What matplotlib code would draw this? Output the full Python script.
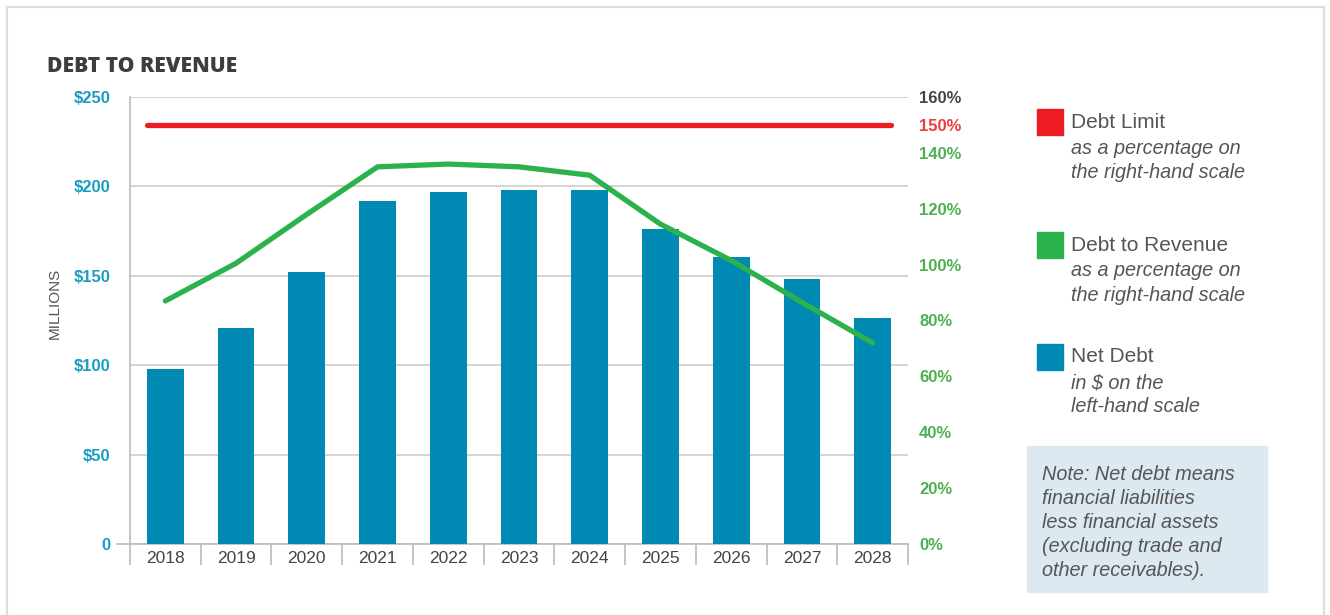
import matplotlib
matplotlib.use("Agg")
import matplotlib.pyplot as plt
from matplotlib.patches import Rectangle
from matplotlib.lines import Line2D
import numpy as np

# ---- data ----
years = ["2018", "2019", "2020", "2021", "2022", "2023", "2024", "2025", "2026", "2027", "2028"]
net_debt = [98, 121, 152, 192, 197, 198, 198, 176, 160.5, 148, 126.5]          # $ millions (left)
debt_to_revenue = [87, 100.5, 118, 135, 136, 135, 132, 114.5, 101.5, 86.5, 72]  # % (right)
debt_limit = 150                                                                # % (right)
left_ticks = [0, 50, 100, 150, 200, 250]
left_labels = ["0", "$50", "$100", "$150", "$200", "$250"]
right_ticks = [0, 20, 40, 60, 80, 100, 120, 140, 150, 160]
right_labels = ["0%", "20%", "40%", "60%", "80%", "100%", "120%", "140%", "150%", "160%"]

BLUE = "#0089b3"
TEAL = "#1a9bc1"
GREEN = "#2bb24c"
GREEN_TXT = "#4cb050"
RED = "#ed1c24"
RED_TXT = "#ef3b39"
DARK = "#444444"
GRID = "#cccccc"
SPINE = "#bbbbbb"
BAR_W = 0.52

plt.rcParams["font.family"] = ["Liberation Sans", "DejaVu Sans"]

W, H = 1330, 615
fig = plt.figure(figsize=(W / 100, H / 100), dpi=100)

def fx(px):
    return px / W

def fy(py):
    return 1 - py / H

# outer frame
fig.add_artist(Line2D([fx(7), fx(7)], [fy(7), 0], color="#dddddd", lw=1.6))
fig.add_artist(Line2D([fx(7), fx(1324)], [fy(7), fy(7)], color="#dddddd", lw=1.6))
fig.add_artist(Line2D([fx(1324), fx(1324)], [fy(7), 0], color="#dddddd", lw=1.6))

left, right, top, bottom = 130, 908, 97, 544
ax = fig.add_axes([fx(left), fy(bottom), fx(right - left), (bottom - top) / H])
x = np.arange(len(years))
ax.bar(x, net_debt, width=BAR_W, color=BLUE, zorder=3)
ax.set_xlim(-0.5, len(years) - 0.5)
ax.set_ylim(0, 250)

for s in ["top", "right"]:
    ax.spines[s].set_visible(False)
ax.spines["left"].set_color(SPINE)
ax.spines["bottom"].set_color(SPINE)
ax.spines["left"].set_linewidth(1.2)
ax.spines["bottom"].set_linewidth(1.2)

ax.set_yticks(left_ticks)
ax.set_yticklabels(left_labels)
ax.tick_params(axis="y", length=0, pad=14, labelsize=12, labelcolor=TEAL)
for lab in ax.get_yticklabels():
    lab.set_fontweight("bold")
ax.yaxis.grid(True, color=GRID, lw=1.2, zorder=0)
ax.set_axisbelow(True)
# short extension of baseline at zero
ax.add_line(Line2D([-0.017, 0], [0, 0], transform=ax.get_yaxis_transform(),
                   color=SPINE, lw=1.2, clip_on=False))

ax.set_xticks(x)
ax.set_xticklabels(years)
ax.set_xticks(np.arange(len(years) + 1) - 0.5, minor=True)
ax.tick_params(axis="x", which="major", length=0, pad=5, labelsize=12.5, labelcolor=DARK)
ax.tick_params(axis="x", which="minor", length=15, width=1.2, color=SPINE, direction="out")

fig.text(fx(55), fy(303), "MILLIONS", fontsize=11, color="#555555", rotation=90,
         ha="center", va="center")

ax2 = ax.twinx()
ax2.set_ylim(0, 160)
for s in ["top", "right", "left", "bottom"]:
    ax2.spines[s].set_visible(False)
ax2.plot(x, debt_to_revenue, color=GREEN, lw=3.8, solid_capstyle="round",
         solid_joinstyle="round", zorder=4)
ax2.plot([x[0] - BAR_W / 2, x[-1] + BAR_W / 2], [debt_limit, debt_limit], color=RED,
         lw=3.8, solid_capstyle="round", zorder=4)
ax2.set_yticks(right_ticks)
ax2.set_yticklabels(right_labels)
ax2.tick_params(axis="y", length=0, pad=8, labelsize=12)
for lab, v in zip(ax2.get_yticklabels(), right_ticks):
    lab.set_fontweight("bold")
    if v == 160:
        lab.set_color(DARK)
    elif v == 150:
        lab.set_color(RED_TXT)
    else:
        lab.set_color(GREEN_TXT)

# title
fig.text(fx(47), fy(72), "DEBT TO REVENUE", fontsize=15.2, fontweight="heavy",
         family=["Open Sans", "DejaVu Sans"], color="#3d3d3d", va="baseline", ha="left")

# legend
legend_items = [
    (RED, "Debt Limit", ["as a percentage on", "the right-hand scale"], 109),
    (GREEN, "Debt to Revenue", ["as a percentage on", "the right-hand scale"], 232),
    (BLUE, "Net Debt", ["in $ on the", "left-hand scale"], 344),
]
for color, head, subs, ytop in legend_items:
    fig.add_artist(Rectangle((fx(1037), fy(ytop + 26)), fx(26), 26 / H, color=color,
                             transform=fig.transFigure))
    fig.text(fx(1071), fy(ytop + 13), head, fontsize=15, color="#555555", va="center")
    for i, s in enumerate(subs):
        fig.text(fx(1071), fy(ytop + 39 + 24 * i), s, fontsize=14.3, style="italic",
                 color="#555555", va="center")

# note box
fig.add_artist(Rectangle((fx(1027), fy(592)), fx(240), 146 / H, color="#dde9f0",
                         transform=fig.transFigure))
note_lines = ["Note: Net debt means", "financial liabilities", "less financial assets",
              "(excluding trade and", "other receivables)."]
for i, s in enumerate(note_lines):
    fig.text(fx(1042), fy(474 + 24 * i), s, fontsize=14.3, style="italic",
             color="#555555", va="center")

fig.savefig("out.png", dpi=100)
